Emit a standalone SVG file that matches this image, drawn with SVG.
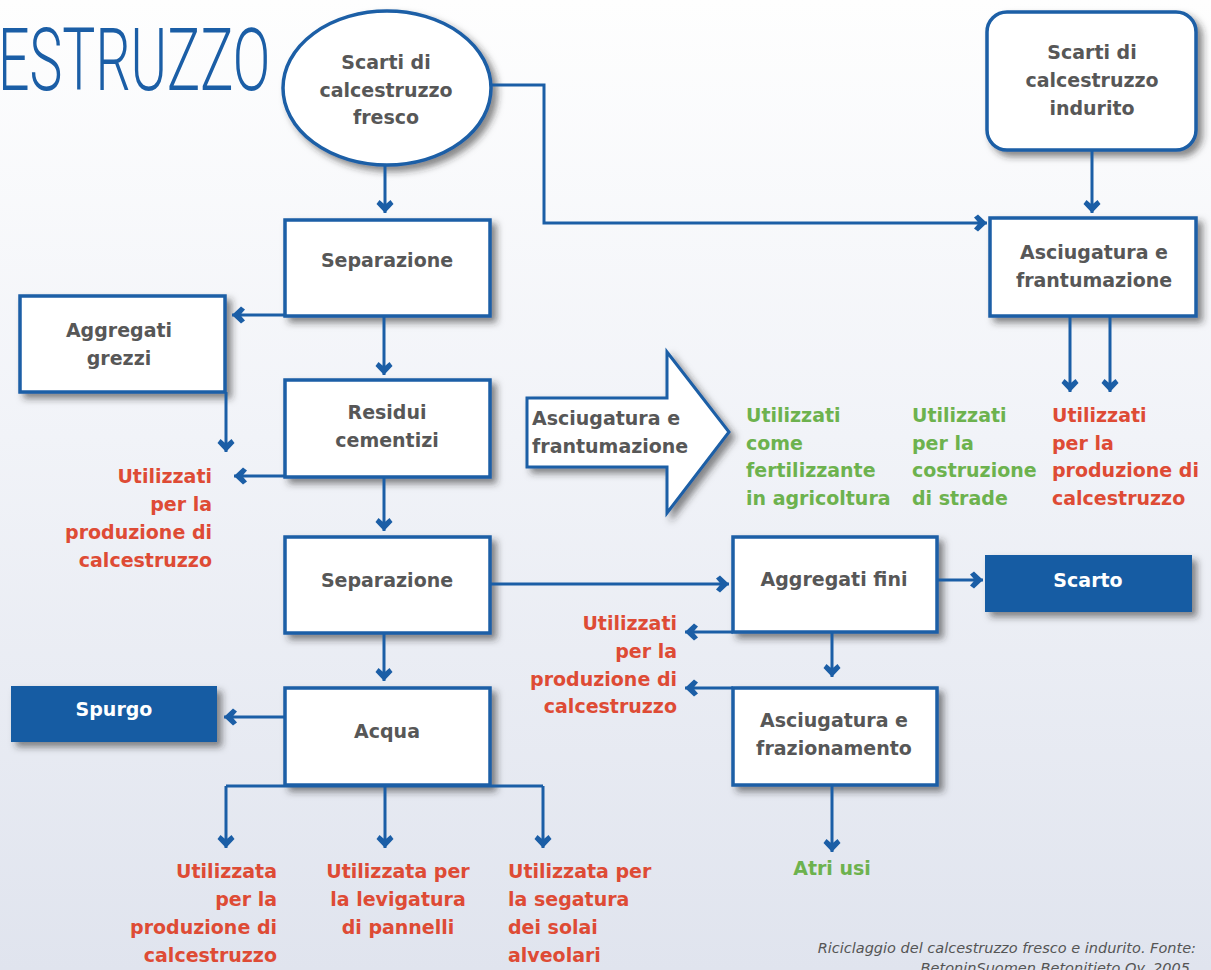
<svg xmlns="http://www.w3.org/2000/svg" width="1211" height="970" viewBox="0 0 1211 970">
<defs>
<linearGradient id="bg" x1="0" y1="0" x2="0" y2="1">
<stop offset="0" stop-color="#fefefe"/>
<stop offset="0.45" stop-color="#f1f3f8"/>
<stop offset="1" stop-color="#e0e4ee"/>
</linearGradient>
<filter id="sh" x="-20%" y="-20%" width="150%" height="150%">
<feDropShadow dx="5" dy="5" stdDeviation="3.5" flood-color="#2a2a2a" flood-opacity="0.55"/>
</filter>
<marker id="ah" markerUnits="userSpaceOnUse" viewBox="-14 -10 15 20" refX="0" refY="0" markerWidth="15" markerHeight="20" orient="auto">
<path d="M0,0 L-9,-8.5 L-13,-5.5 L-9.5,-1.5 L-9.5,1.5 L-13,5.5 L-9,8.5 Z" fill="#1b5ea6"/>
</marker>
<style>
.box{fill:#fff;stroke:#1b5ea6;stroke-width:3.5;filter:url(#sh)}
.dark{fill:#175ca3;filter:url(#sh)}
.t{font-family:"DejaVu Sans",Verdana,sans-serif;font-weight:bold;font-size:19px;fill:#575757;text-anchor:middle}
.w{fill:#fff}
.red{font-family:"DejaVu Sans",Verdana,sans-serif;font-weight:bold;font-size:19px;fill:#de4b35}
.grn{font-family:"DejaVu Sans",Verdana,sans-serif;font-weight:bold;font-size:19px;fill:#6db24e}
.c{fill:none;stroke:#1b5ea6;stroke-width:3;marker-end:url(#ah)}
.l{fill:none;stroke:#1b5ea6;stroke-width:3}
</style>
</defs>
<rect x="0" y="0" width="1211" height="970" fill="url(#bg)"/>
<text transform="scale(0.7,1)" x="-3" y="90" font-family="Roboto,'Liberation Sans',sans-serif" font-weight="300" font-size="88" fill="#1b5ea6" textLength="389" lengthAdjust="spacingAndGlyphs">ESTRUZZO</text>

<g id="fresco">
<ellipse cx="387" cy="88" rx="104" ry="77" class="box"/>
<text class="t" x="386" y="69">Scarti di</text>
<text class="t" x="386" y="97">calcestruzzo</text>
<text class="t" x="386" y="124">fresco</text>
</g>
<g id="indurito">
<rect x="987" y="12" width="209" height="138" rx="20" class="box"/>
<text class="t"><tspan x="1092" y="59">Scarti di</tspan><tspan x="1092" y="87">calcestruzzo</tspan><tspan x="1092" y="115">indurito</tspan></text>
</g>
<g id="separazione1">
<rect x="285" y="220" width="205" height="96" class="box"/>
<text class="t" x="387" y="267">Separazione</text>
</g>
<g id="aggregati-grezzi">
<rect x="20" y="296" width="205" height="96" class="box"/>
<text class="t"><tspan x="119" y="337">Aggregati</tspan><tspan x="119" y="365">grezzi</tspan></text>
</g>
<g id="residui">
<rect x="285" y="380" width="205" height="97" class="box"/>
<text class="t"><tspan x="387" y="419">Residui</tspan><tspan x="387" y="447">cementizi</tspan></text>
</g>
<g id="freccia-asciugatura">
<path d="M527,398 L667,398 L667,352 L729,432 L667,513 L667,467 L527,467 Z" class="box" style="stroke-width:3"/>
<text class="t" style="text-anchor:start"><tspan x="532" y="425">Asciugatura e</tspan><tspan x="532" y="453">frantumazione</tspan></text>
</g>
<g id="separazione2">
<rect x="285" y="537" width="205" height="96" class="box"/>
<text class="t" x="387" y="587">Separazione</text>
</g>
<g id="acqua">
<rect x="285" y="688" width="205" height="97" class="box"/>
<text class="t" x="387" y="738">Acqua</text>
</g>
<g id="spurgo">
<rect x="11" y="686" width="206" height="56" class="dark"/>
<text class="t w" x="114" y="716">Spurgo</text>
</g>
<g id="aggregati-fini">
<rect x="733" y="537" width="204" height="95" class="box"/>
<text class="t" x="834" y="586">Aggregati fini</text>
</g>
<g id="scarto">
<rect x="985" y="555" width="207" height="57" class="dark"/>
<text class="t w" x="1088" y="587">Scarto</text>
</g>
<g id="frazionamento">
<rect x="733" y="688" width="204" height="97" class="box"/>
<text class="t"><tspan x="834" y="727">Asciugatura e</tspan><tspan x="834" y="755">frazionamento</tspan></text>
</g>
<g id="frantumazione">
<rect x="990" y="218" width="206" height="98" class="box"/>
<text class="t"><tspan x="1094" y="259">Asciugatura e</tspan><tspan x="1094" y="287">frantumazione</tspan></text>
</g>

<g id="connectors">
<path class="c" d="M385,166 L385,213"/>
<path class="c" d="M492,85 L544,85 L544,223 L987,223"/>
<path class="c" d="M1092,151 L1092,213"/>
<path class="c" d="M285,315 L232,315"/>
<path class="c" d="M384,317 L384,375"/>
<path class="c" d="M226,392 L226,452"/>
<path class="c" d="M285,476 L234,476"/>
<path class="c" d="M384,478 L384,531"/>
<path class="c" d="M490,584 L729,584"/>
<path class="c" d="M384,634 L384,681"/>
<path class="c" d="M285,717 L224,717"/>
<path class="l" d="M226,786 L543,786"/>
<path class="c" d="M226,786 L226,848"/>
<path class="c" d="M385,786 L385,848"/>
<path class="c" d="M543,786 L543,848"/>
<path class="c" d="M937,580 L983,580"/>
<path class="c" d="M733,632 L685,632"/>
<path class="c" d="M832,633 L832,677"/>
<path class="c" d="M733,688 L685,688"/>
<path class="c" d="M832,786 L832,852"/>
<path class="c" d="M1070,317 L1070,392"/>
<path class="c" d="M1110,317 L1110,392"/>
</g>

<g id="labels">
<text class="red" text-anchor="end"><tspan x="212" y="483">Utilizzati</tspan><tspan x="212" y="511">per la</tspan><tspan x="212" y="539">produzione di</tspan><tspan x="212" y="567">calcestruzzo</tspan></text>
<text class="grn"><tspan x="746" y="422">Utilizzati</tspan><tspan x="746" y="450">come</tspan><tspan x="746" y="477">fertilizzante</tspan><tspan x="746" y="505">in agricoltura</tspan></text>
<text class="grn"><tspan x="912" y="422">Utilizzati</tspan><tspan x="912" y="450">per la</tspan><tspan x="912" y="477">costruzione</tspan><tspan x="912" y="505">di strade</tspan></text>
<text class="red"><tspan x="1052" y="422">Utilizzati</tspan><tspan x="1052" y="450">per la</tspan><tspan x="1052" y="477">produzione di</tspan><tspan x="1052" y="505">calcestruzzo</tspan></text>
<text class="red" text-anchor="end"><tspan x="677" y="630">Utilizzati</tspan><tspan x="677" y="658">per la</tspan><tspan x="677" y="686">produzione di</tspan><tspan x="677" y="713">calcestruzzo</tspan></text>
<text class="red" text-anchor="end"><tspan x="277" y="878">Utilizzata</tspan><tspan x="277" y="906">per la</tspan><tspan x="277" y="934">produzione di</tspan><tspan x="277" y="962">calcestruzzo</tspan></text>
<text class="red" text-anchor="middle"><tspan x="398" y="878">Utilizzata per</tspan><tspan x="398" y="906">la levigatura</tspan><tspan x="398" y="934">di pannelli</tspan></text>
<text class="red"><tspan x="508" y="878">Utilizzata per</tspan><tspan x="508" y="906">la segatura</tspan><tspan x="508" y="934">dei solai</tspan><tspan x="508" y="962">alveolari</tspan></text>
<text class="grn" text-anchor="middle" x="832" y="875">Atri usi</text>
</g>
<g id="caption" font-family="'DejaVu Sans',Verdana,sans-serif" font-style="italic" font-size="14.5" fill="#555" text-anchor="end">
<text x="1196" y="953">Riciclaggio del calcestruzzo fresco e indurito. Fonte:</text>
<text x="1190" y="973">BetoninSuomen Betonitieto Oy, 2005</text>
</g>
</svg>
